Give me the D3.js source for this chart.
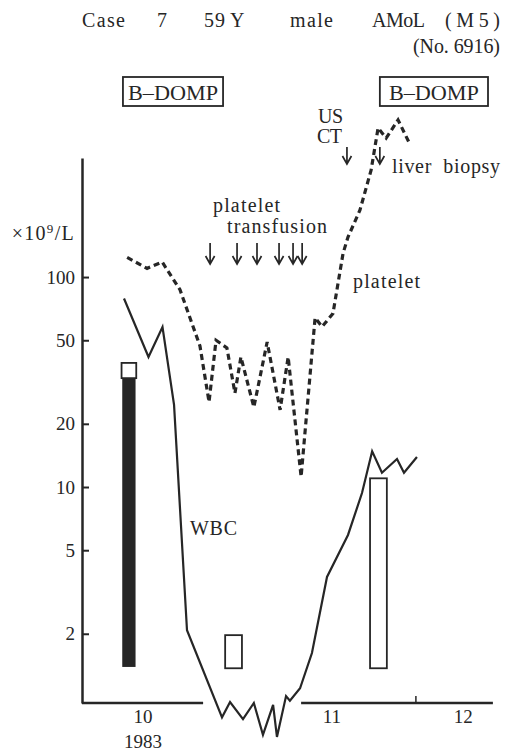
<!DOCTYPE html>
<html>
<head>
<meta charset="utf-8">
<script src="https://cdn.jsdelivr.net/npm/d3@7"></script>
<style>
  body { margin: 0; background: #fff; }
  svg text { font-family: "Liberation Serif", "DejaVu Serif", serif; fill: #262626; }
  .rotulo { font-size: 20px; }
</style>
</head>
<body>
<svg width="507" height="751"></svg>
<script>
// Tempo em dias (origem arbitraria, ~3.5 px por dia), contagens em x10^9/L
var diasWBC = [12, 19, 23, 26.3, 30, 40, 42.3, 46, 49.1, 51.7, 54.6, 55.7, 58.3, 59.4,
               62.3, 65.7, 70, 76, 80, 82.9, 85.7, 90, 92, 95.7];
var valoresWBC = [79, 41.6, 57.8, 24.6, 2.08, 0.80, 0.946, 0.785, 0.936, 0.66, 0.916, 0.645, 1.01, 0.96,
                  1.10, 1.62, 3.73, 5.91, 9.36, 14.8, 11.7, 13.6, 11.7, 13.9];

var diasPlaquetas = [12.9, 18.6, 22.9, 28, 33.7, 36.3, 38.3, 41.4, 43.7, 45.4, 49.1, 52.9, 56.6,
                     58.9, 62.6, 66.6, 68.6, 71.7, 74.6, 76, 79.4, 82.6, 84.6, 86.9, 90.3, 93.4];
var valoresPlaquetas = [124, 110, 118, 87, 47, 25.4, 50, 46, 28, 41.6, 24, 49, 23.3,
                        41.6, 11.2, 64, 58, 67, 130, 155, 208, 323, 513, 459, 560, 439];

// Barras de tratamento (inicio, fim, valor minimo, valor maximo)
var barras = [
  {inicio: 11.5, fim: 15.3, min: 1.39, max: 33, cheia: true},
  {inicio: 11.3, fim: 15.5, min: 33, max: 39, cheia: false},
  {inicio: 40.9, fim: 45.7, min: 1.37, max: 1.97, cheia: false},
  {inicio: 82.3, fim: 87.1, min: 1.37, max: 11.0, cheia: false}
];

var diasTransfusao = [36.6, 44.3, 50, 56.3, 60.3, 62.9];
var diasExames = [75.7, 85.1];
var caixasDOMP = [{inicio: 11.7, fim: 40.3}, {inicio: 85.1, fim: 116}];

var ticksY = [2, 5, 10, 20, 50, 100];
var meses = [{dia: 17.4, texto: "10"}, {dia: 71.4, texto: "11"}, {dia: 108.9, texto: "12"}];
var segmentosEixoX = [[0, 34.6], [62.6, 117.4]];
var ticksX = [95.4];

// Textos e seu layout (x, linha de base, largura) -- o original usa tipos espacados
var titulo = [["Case", 82, 27, 43], ["7", 157, 27, 9], ["59", 204, 27, 21], ["Y", 230, 27, 15],
              ["male", 290, 27, 43], ["AMoL", 372, 27, 53], ["(M5)", 445, 27, 55],
              ["(No. 6916)", 413, 53, 87]];
var anotacoes = [["platelet", 213, 212, 67], ["transfusion", 227, 233, 100], ["platelet", 353, 288, 67],
                 ["US", 318, 123, 25], ["CT", 317, 143, 25], ["liver  biopsy", 392, 173, 108],
                 ["WBC", 190, 535, 47]];

var svg = d3.select("svg");

var x = d3.scaleLinear().domain([0, 118]).range([82, 495]);
var y = d3.scaleLog().domain([0.936, 369]).range([703, 158]);

// Eixo Y: ticks para dentro, rotulos a esquerda
var eixoY = svg.append("g")
    .attr("transform", "translate(" + x(0) + ",0)")
    .call(d3.axisLeft(y).tickValues(ticksY).tickFormat(d3.format("d"))
      .tickSize(-7).tickSizeOuter(0).tickPadding(7));
eixoY.select(".domain").attr("stroke", "#262626").attr("stroke-width", 2.5);
eixoY.selectAll(".tick line").attr("stroke", "#262626").attr("stroke-width", 2);
eixoY.selectAll(".tick text")
    .style("font-family", "Liberation Serif, serif")
    .style("font-size", "19px")
    .attr("fill", "#262626");

var unidade = svg.append("text")
    .attr("x", 75).attr("y", 240)
    .attr("text-anchor", "end")
    .style("font-size", "20px")
    .style("letter-spacing", "1.3px");
unidade.append("tspan").text("\u00d710");
unidade.append("tspan").attr("dy", -7).style("font-size", "13px").text("9");
unidade.append("tspan").attr("dy", 7).text("/L");

// Eixo X interrompido
svg.append("g").selectAll("line")
  .data(segmentosEixoX)
  .enter().append("line")
    .attr("x1", function(d){return x(d[0]);})
    .attr("x2", function(d){return x(d[1]);})
    .attr("y1", 703).attr("y2", 703)
    .attr("stroke", "#262626").attr("stroke-width", 2.5);
svg.append("g").selectAll("line")
  .data(ticksX)
  .enter().append("line")
    .attr("x1", function(d){return x(d);}).attr("x2", function(d){return x(d);})
    .attr("y1", 703).attr("y2", 696)
    .attr("stroke", "#262626").attr("stroke-width", 1.5);
svg.append("g").selectAll("text")
  .data(meses)
  .enter().append("text")
    .attr("x", function(d){return x(d.dia);})
    .attr("y", 723)
    .attr("text-anchor", "middle")
    .style("font-size", "19px")
    .text(function(d){return d.texto;});
svg.append("text")
    .attr("x", x(meses[0].dia)).attr("y", 748)
    .attr("text-anchor", "middle")
    .style("font-size", "19px")
    .text("1983");

// Barras de tratamento
svg.append("g").selectAll("rect")
  .data(barras)
  .enter().append("rect")
    .attr("x", function(d){return x(d.inicio);})
    .attr("width", function(d){return x(d.fim) - x(d.inicio);})
    .attr("y", function(d){return y(d.max);})
    .attr("height", function(d){return y(d.min) - y(d.max);})
    .attr("fill", function(d){return d.cheia ? "#262626" : "#fff";})
    .attr("stroke", "#262626")
    .attr("stroke-width", function(d){return d.cheia ? 0 : 1.8;});

// Curvas
var linha = d3.line()
    .x(function(d){return x(d[0]);})
    .y(function(d){return y(d[1]);});

svg.append("path")
    .datum(d3.zip(diasPlaquetas, valoresPlaquetas))
    .attr("d", linha)
    .attr("fill", "none")
    .attr("stroke", "#262626")
    .attr("stroke-width", 3.2)
    .attr("stroke-dasharray", "6,4");

svg.append("path")
    .datum(d3.zip(diasWBC, valoresWBC))
    .attr("d", linha)
    .attr("fill", "none")
    .attr("stroke", "#262626")
    .attr("stroke-width", 2.2)
    .attr("stroke-linejoin", "miter");

// Setas (transfusao e exames)
function seta(g, xs, y1, y2) {
  g.selectAll("path")
    .data(xs)
    .enter().append("path")
      .attr("d", function(d){
        var px = x(d);
        return "M" + px + "," + y1 + "V" + y2 +
               "M" + (px - 4.5) + "," + (y2 - 8) + "L" + px + "," + y2 + "L" + (px + 4.5) + "," + (y2 - 8);
      })
      .attr("fill", "none")
      .attr("stroke", "#262626")
      .attr("stroke-width", 1.7);
}
seta(svg.append("g"), diasTransfusao, 243, 264);
seta(svg.append("g"), diasExames, 147, 164);

// Caixas B-DOMP
var caixa = svg.append("g").selectAll("g")
  .data(caixasDOMP)
  .enter().append("g");
caixa.append("rect")
    .attr("x", function(d){return x(d.inicio);})
    .attr("width", function(d){return x(d.fim) - x(d.inicio);})
    .attr("y", 77).attr("height", 29)
    .attr("fill", "none").attr("stroke", "#262626").attr("stroke-width", 1.8);
caixa.append("text")
    .attr("class", "rotulo")
    .attr("x", function(d){return (x(d.inicio) + x(d.fim)) / 2 - 45;})
    .attr("y", 100)
    .attr("textLength", 90)
    .attr("lengthAdjust", "spacingAndGlyphs")
    .style("font-size", "21px")
    .text("B\u2013DOMP");

// Titulo e anotacoes
function escreve(lista) {
  svg.append("g").selectAll("text")
    .data(lista)
    .enter().append("text")
      .attr("class", "rotulo")
      .attr("x", function(d){return d[1];})
      .attr("y", function(d){return d[2];})
      .attr("textLength", function(d){return d[0].length > 1 ? d[3] : null;})
      .attr("lengthAdjust", "spacing")
      .style("white-space", "pre")
      .text(function(d){return d[0];});
}
escreve(titulo);
escreve(anotacoes);
</script>
</body>
</html>
